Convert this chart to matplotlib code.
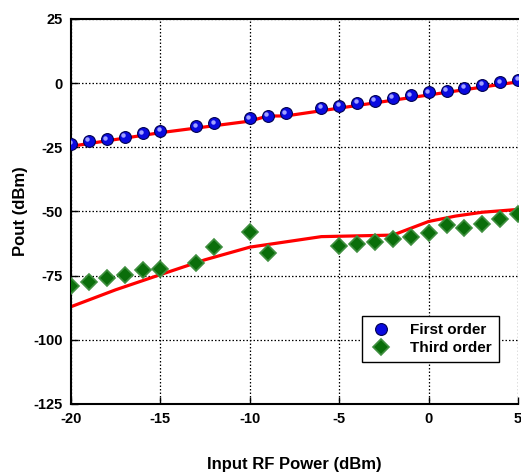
import matplotlib
matplotlib.use("Agg")
import matplotlib.pyplot as plt
import matplotlib.transforms as mtransforms

plt.rcParams["font.family"] = ["Liberation Sans", "DejaVu Sans"]
plt.rcParams["font.weight"] = "bold"
plt.rcParams["axes.unicode_minus"] = False

# Measured fundamental (first order) output
first_x = [-20, -19, -18, -17, -16, -15, -13, -12, -10, -9, -8,
           -6, -5, -4, -3, -2, -1, 0, 1, 2, 3, 4, 5]
first_y = [-23.6, -22.5, -21.8, -20.8, -19.6, -18.6, -16.8, -15.7, -13.7, -12.8, -11.8,
           -9.6, -8.9, -7.7, -6.8, -5.7, -4.7, -3.6, -2.9, -1.8, -0.7, 0.3, 1.3]

# Measured third-order intermod output
third_x = [-20, -19, -18, -17, -16, -15, -13, -12, -10, -9,
           -5, -4, -3, -2, -1, 0, 1, 2, 3, 4, 5]
third_y = [-78.9, -77.3, -76.1, -74.7, -72.8, -72.5, -69.9, -63.7, -58.1, -66.3,
           -63.5, -62.6, -61.7, -60.8, -59.9, -58.3, -55.4, -56.4, -54.7, -53.0, -50.8]

# Simulated curves
sim1_x = [-20, -15, -10, -9, -8, 5]
sim1_y = [-24.6, -19.3, -14.8, -12.8, -12.8, 0.5]
sim3_x = [-20, -17.5, -15, -12.5, -10, -6, -2, 0, 1.5, 3, 5]
sim3_y = [-87.1, -80.5, -74.6, -68.8, -63.9, -59.8, -59.2, -53.9, -51.8, -50.3, -49.2]

x_ticks = [-20, -15, -10, -5, 0, 5]
y_ticks = [-125, -100, -75, -50, -25, 0, 25]

fig = plt.figure(figsize=(5.21, 4.74), dpi=100)
ax = fig.add_axes([0.1363, 0.1477, 0.858, 0.8123])

ax.plot(sim1_x, sim1_y, color="#ff0000", lw=2.3, zorder=2)
ax.plot(sim3_x, sim3_y, color="#ff0000", lw=2.3, zorder=2)

# shaded markers: base colour, then a small highlight nudged up-left
hl = mtransforms.offset_copy(ax.transData, fig=fig, x=-1.5, y=1.5, units="dots")
ax.plot(first_x, first_y, "o", ms=8.5, mfc="#0a0ae0", mec="#000050", mew=0.8,
        zorder=3, label="First order")
ax.plot(first_x, first_y, "o", ms=3.2, mfc="#a0a0ff", mec="none", zorder=4,
        transform=hl)
ax.plot(third_x, third_y, "D", ms=8, mfc="#0a6e0a", mec="#3f8f3f", mew=1.2,
        zorder=3, label="Third order")

ax.set_xlim(-20, 5)
ax.set_ylim(-125, 25)
ax.set_xticks(x_ticks)
ax.set_yticks(y_ticks)
ax.grid(True, color="black", ls=(0, (1.2, 1.6)), lw=0.9)
ax.tick_params(direction="in", length=5, width=1, labelsize=10.5, pad=6)
ax.spines["right"].set_visible(False)
for side in ("left", "bottom", "top"):
    ax.spines[side].set_linewidth(1.5)

ax.set_xlabel("Input RF Power (dBm)", fontsize=12, fontweight="bold", labelpad=22)
ax.set_ylabel("Pout (dBm)", fontsize=12, fontweight="bold", labelpad=4)

leg = ax.legend(loc="lower right", bbox_to_anchor=(0.957, 0.109), fontsize=11,
                frameon=True, fancybox=False, framealpha=1, edgecolor="black",
                borderpad=0.45, handletextpad=1.1, labelspacing=0.25, handlelength=1.6,
                borderaxespad=0)
leg.get_frame().set_linewidth(1.0)

fig.savefig("out.png", dpi=100)
